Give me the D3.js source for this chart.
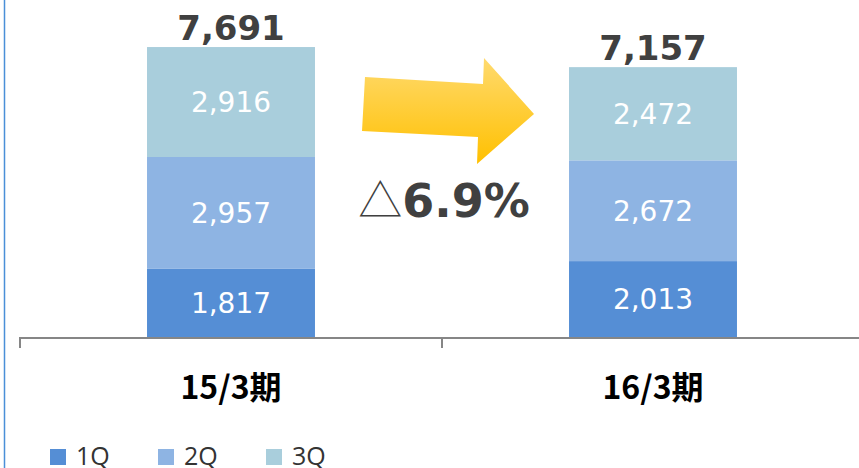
<!DOCTYPE html>
<html>
<head>
<meta charset="utf-8">
<script src="https://cdn.jsdelivr.net/npm/d3@7/dist/d3.min.js"></script>
<style>
  html, body { margin: 0; padding: 0; background: #fff; }
  svg { display: block; }
</style>
</head>
<body>
<svg id="chart" width="859" height="468"></svg>
<script>
// ---- data ----
const categories = ["15/3期", "16/3期"];
const seriesNames = ["1Q", "2Q", "3Q"];
const q1 = [1817, 2013];
const q2 = [2957, 2672];
const q3 = [2916, 2472];
const totals = [7691, 7157];
const changeLabel = "6.9%";
const changeMark = "△";

const colors = ["#558ED5", "#8EB4E3", "#A9CEDC"];

const W = 859, H = 468;
const svg = d3.select("#chart");

const baseY = 337;
const x0 = 20;
const x = d3.scaleBand().domain(categories).range([x0, 864]).paddingInner(0.602).paddingOuter(0.301);
const y = d3.scaleLinear().domain([0, 8000]).range([baseY, baseY - 8000 * 290 / 7691]);

// left blue border
svg.append("line").attr("x1", 4.5).attr("x2", 4.5).attr("y1", 0).attr("y2", H)
  .attr("stroke", "#4A8FD8").attr("stroke-width", 1.5);

// stacked data
const rows = categories.map((c, i) => ({ cat: c, "1Q": q1[i], "2Q": q2[i], "3Q": q3[i] }));
const stack = d3.stack().keys(seriesNames)(rows);

const layers = svg.append("g").selectAll("g").data(stack).join("g")
  .attr("fill", (d, i) => colors[i]);
layers.selectAll("rect").data(d => d).join("rect")
  .attr("x", d => x(d.data.cat))
  .attr("width", x.bandwidth())
  .attr("y", d => y(d[1]))
  .attr("height", d => y(d[0]) - y(d[1]));

// segment labels
layers.selectAll("text").data(d => d).join("text")
  .attr("x", d => x(d.data.cat) + x.bandwidth() / 2)
  .attr("y", d => (y(d[0]) + y(d[1])) / 2 + 10)
  .attr("text-anchor", "middle")
  .attr("fill", "#fff")
  .attr("font-family", "DejaVu Sans")
  .attr("font-size", 28)
  .text(d => d3.format(",")(d[1] - d[0]));

// totals
svg.append("g").selectAll("text").data(categories).join("text")
  .attr("x", c => x(c) + x.bandwidth() / 2)
  .attr("y", (c, i) => y(totals[i]) - 7)
  .attr("text-anchor", "middle")
  .attr("fill", "#404040")
  .attr("font-family", "DejaVu Sans")
  .attr("font-weight", "bold")
  .attr("font-size", 34)
  .text((c, i) => d3.format(",")(totals[i]));

// axis
const axisG = svg.append("g");
axisG.append("line").attr("x1", x0).attr("x2", W).attr("y1", baseY + 1).attr("y2", baseY + 1)
  .attr("stroke", "#868686").attr("stroke-width", 2);
const boundaries = d3.range(categories.length + 1).map(i => x0 + i * x.step());
axisG.selectAll("line.tick").data(boundaries).join("line").attr("class", "tick")
  .attr("x1", d => d).attr("x2", d => d).attr("y1", baseY).attr("y2", baseY + 11)
  .attr("stroke", "#868686").attr("stroke-width", 2);

const xAxis = svg.append("g").attr("transform", `translate(0,${baseY})`)
  .call(d3.axisBottom(x).tickSize(0).tickPadding(0));
xAxis.select(".domain").remove();
xAxis.selectAll("text")
  .attr("dy", null).attr("y", 62)
  .attr("fill", "#000")
  .attr("font-family", "'Noto Sans CJK JP'")
  .attr("font-weight", "bold")
  .attr("font-size", 32);

// arrow (annotation between bars)
const defs = svg.append("defs");
const grad = defs.append("linearGradient").attr("id", "arrowGrad")
  .attr("x1", 0).attr("y1", 0).attr("x2", 0).attr("y2", 1);
grad.append("stop").attr("offset", "0%").attr("stop-color", "#FFDA6E");
grad.append("stop").attr("offset", "100%").attr("stop-color", "#FFC000");

const mid = x0 + x.step(); // boundary between bands
const arrowPts = [[-77, 77], [41, 84], [42, 58], [92, 114], [35, 164], [36, 137], [-80, 131]];
svg.append("polygon")
  .attr("points", arrowPts.map(p => [mid + p[0], p[1]].join(",")).join(" "))
  .attr("fill", "url(#arrowGrad)");

// change label
const ct = svg.append("text").attr("x", mid + 2).attr("y", 217)
  .attr("text-anchor", "middle").attr("fill", "#404040");
ct.append("tspan").attr("font-family", "'Noto Sans CJK JP'").attr("font-weight", "300")
  .attr("font-size", 44).text(changeMark);
ct.append("tspan").attr("font-family", "DejaVu Sans").attr("font-weight", "bold")
  .attr("font-size", 46).text(changeLabel);

// legend
const leg = svg.append("g").selectAll("g").data(seriesNames).join("g")
  .attr("transform", (d, i) => `translate(${50 + i * 108},449)`);
leg.append("rect").attr("width", 16).attr("height", 16).attr("fill", (d, i) => colors[i]);
leg.append("text").attr("x", 26).attr("y", 16)
  .attr("font-family", "'Open Sans'").attr("font-size", 25).attr("fill", "#333")
  .text(d => d);
</script>
</body>
</html>
